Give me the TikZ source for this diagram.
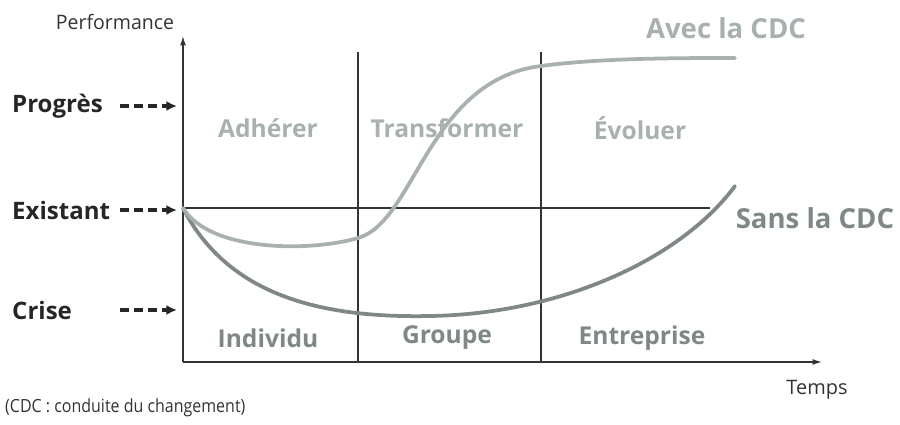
\documentclass[tikz,border=0pt]{standalone}
\usepackage{fontspec}
\setmainfont{Open Sans}
\usepackage{tikz}
\usepackage{xcolor}
\usetikzlibrary{arrows.meta}

\definecolor{avec}{HTML}{A9B1AD}
\definecolor{sans}{HTML}{7F8884}
\definecolor{axe}{HTML}{333333}

\begin{document}
\begin{tikzpicture}[x=0.03cm,y=-0.03cm,
        axis/.style={draw=axe,line width=1.1pt},
        niveau/.style={font=\bfseries\fontsize{20.5}{22}\selectfont,text=black!85,anchor=west,inner sep=0pt},
        pointe/.style={-{Latex[length=9pt,width=8.5pt]},dash pattern=on 7.5pt off 4.5pt,line width=2.6pt,black!85},
        phase/.style={font=\fontsize{21}{23}\selectfont\bfseries,text=avec},
        acteur/.style={font=\fontsize{21}{23}\selectfont\bfseries,text=sans},
        courbe/.style={line width=3.2pt,line cap=round}]
        \useasboundingbox (0,0) rectangle (900,425);
        \coordinate (O) at (183,362);
        \coordinate (Ytop) at (183,36);
        \coordinate (Xend) at (822,362);
        \draw[axis,-{Latex[length=8pt,width=5pt]}] (O) -- (Ytop); % axes
        \draw[axis,-{Latex[length=8pt,width=5pt]}] (O) -- (Xend);
        \draw[axis] (358,362) -- (358,52);
        \draw[axis] (541,362) -- (541,52);
        \draw[axis] (183,208) -- (710,208);

        \node[font=\fontsize{17}{19}\selectfont,text=axe,xscale=0.98,transform shape] (perf) at (115,22) {Performance};
        \node[font=\fontsize{17}{19}\selectfont,text=axe,xscale=1.0,transform shape] (temps) at (817,390) {Temps};

        \node[niveau] (prog) at (12,106) {Progrès};
        \node[niveau] (exist) at (12,210) {Existant};
        \node[niveau] (crise) at (12,310) {Crise};
        \draw[pointe] (120,106) -- (177,106);
        \draw[pointe] (120,210) -- (177,210);
        \draw[pointe] (120,310) -- (177,310);

        \node[phase] (adh) at (268,128) {Adhérer};
        \node[phase] (trans) at (447,128) {Transformer};
        \node[phase] (evol) at (640,128) {Évoluer};
        \node[acteur] (indiv) at (268,338) {Individu};
        \node[acteur] (grp) at (447,338) {Groupe};
        \node[acteur] (entr) at (642,338) {Entreprise};

        % les deux courbes
        \draw[courbe,sans] (183,208) .. controls (230,300) and (330,318) .. (430,316)
            .. controls (560,314) and (680,260) .. (735,186);
        \draw[courbe,avec] (183,208) .. controls (210,252) and (310,252) .. (358,238)
            .. controls (415,222) and (428,80) .. (541,66)
            .. controls (600,58) and (680,58) .. (735,58);

        \node[font=\fontsize{23.5}{25}\selectfont\bfseries,text=avec] (avecl) at (726,28) {Avec la CDC};
        \node[font=\fontsize{23.5}{25}\selectfont\bfseries,text=sans] (sansl) at (815,218) {Sans la CDC};
        \node[font=\fontsize{15.5}{17}\selectfont,text=axe,anchor=west,inner sep=0pt,xscale=0.88,transform shape] (note) at (5,408) {(CDC : conduite du changement)};
    \end{tikzpicture}
\end{document}
